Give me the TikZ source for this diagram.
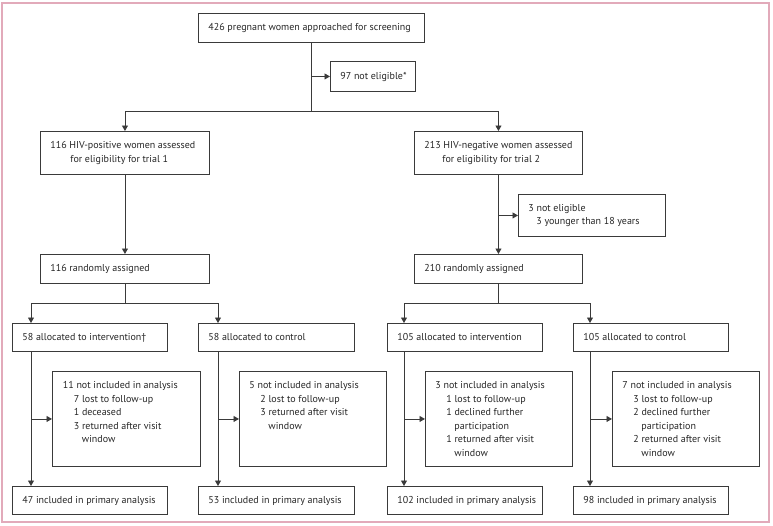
\documentclass[tikz,border=0pt]{standalone}
\usepackage{fontspec}
\setmainfont{PT Sans}
\usetikzlibrary{arrows.meta,calc}
\definecolor{linec}{HTML}{3A3A3A}
\definecolor{framec}{HTML}{E2AABA}
\definecolor{textc}{HTML}{262626}
\newcommand{\sub}[1]{\par\hangindent=19pt\hspace*{11pt}#1}
\newcommand{\bx}[2]{\makebox[#1][l]{\begin{tabular}{@{}l@{}}#2\end{tabular}}}
\newcommand{\ex}[1]{\begin{minipage}[c][75pt][t]{127pt}\raggedright\hyphenpenalty=10000 #1\end{minipage}}
\begin{document}
\begin{tikzpicture}[x=1pt,y=-1pt,
  box/.style={draw=linec, line width=0.9pt, anchor=north west, inner xsep=10pt, inner ysep=0pt,
     font=\fontsize{10}{13.5}\selectfont, text=textc},
  exbox/.style={box, inner ysep=10pt},
  arr/.style={draw=linec, line width=0.9pt, -{Triangle[length=5.5pt,width=6pt]}},
  ln/.style={draw=linec, line width=0.9pt}]
\useasboundingbox (0,0) rectangle (773,525);
\draw[framec, line width=1.2pt] (2,3) rectangle (769,522);

% top level
\node[box, minimum width=226pt, minimum height=29pt] (top) at (198,13) {\bx{206pt}{426 pregnant women approached for screening}};
\node[box, minimum width=85pt, minimum height=30pt] (ne1) at (330,61) {\bx{65pt}{97 not eligible*}};

\node[box, minimum width=169pt, minimum height=43pt] (hivpos) at (40,131) {\bx{149pt}{116 HIV-positive women assessed\\\hspace*{20pt}for eligibility for trial 1}};
\node[box, minimum width=168pt, minimum height=43pt] (hivneg) at (414,131) {\bx{148pt}{213 HIV-negative women assessed\\\hspace*{18pt}for eligibility for trial 2}};
\node[box, minimum width=147pt, minimum height=42pt] (ne2) at (518,194) {\bx{127pt}{3 not eligible\\\hspace*{8pt}3 younger than 18 years}};

\node[box, minimum width=169pt, minimum height=29pt] (rand1) at (40,254) {\bx{149pt}{116 randomly assigned}};
\node[box, minimum width=168pt, minimum height=29pt] (rand2) at (414,254) {\bx{148pt}{210 randomly assigned}};

% allocation
\node[box, minimum width=155pt, minimum height=28pt] (al1) at (12,323) {\bx{135pt}{58 allocated to intervention\textdagger}};
\node[box, minimum width=156pt, minimum height=28pt] (al2) at (198,323) {\bx{136pt}{58 allocated to control}};
\node[box, minimum width=155pt, minimum height=28pt] (al3) at (387,323) {\bx{135pt}{105 allocated to intervention}};
\node[box, minimum width=155pt, minimum height=28pt] (al4) at (573,323) {\bx{135pt}{105 allocated to control}};

% exclusions
\node[exbox, minimum width=148pt, minimum height=95pt] (ex1) at (52,371) {\ex{11 not included in analysis\sub{7 lost to follow-up}\sub{1 deceased}\sub{3 returned after visit window}}};
\node[exbox, minimum width=147pt, minimum height=95pt] (ex2) at (239,371) {\ex{5 not included in analysis\sub{2 lost to follow-up}\sub{3 returned after visit window}}};
\node[exbox, minimum width=147pt, minimum height=95pt] (ex3) at (425,371) {\ex{3 not included in analysis\sub{1 lost to follow-up}\sub{1 declined further participation}\sub{1 returned after visit window}}};
\node[exbox, minimum width=147pt, minimum height=95pt] (ex4) at (612,371) {\ex{7 not included in analysis\sub{3 lost to follow-up}\sub{2 declined further participation}\sub{2 returned after visit window}}};

% included
\node[box, minimum width=155pt, minimum height=28pt] (in1) at (12,486) {\bx{135pt}{47 included in primary analysis}};
\node[box, minimum width=156pt, minimum height=28pt] (in2) at (198,486) {\bx{136pt}{53 included in primary analysis}};
\node[box, minimum width=155pt, minimum height=28pt] (in3) at (387,486) {\bx{135pt}{102 included in primary analysis}};
\node[box, minimum width=155pt, minimum height=28pt] (in4) at (573,486) {\bx{135pt}{98 included in primary analysis}};

% connectors top
\coordinate (s1) at (top.south |- 0,111);
\draw[ln] (top.south) -- (s1);
\draw[arr] (top.south |- ne1.west) -- (ne1.west);
\draw[arr] (s1) -| (hivpos.north);
\draw[arr] (s1) -| (hivneg.north);
\draw[arr] (hivpos.south) -- (rand1.north);
\draw[arr] (hivneg.south) -- (rand2.north);
\draw[arr] (hivneg.south |- ne2.west) -- (ne2.west);

% randomisation splits
\coordinate (s2) at (rand1.south |- 0,303);
\coordinate (s3) at (rand2.south |- 0,303);
\coordinate (c1) at (31,0);
\coordinate (c2) at (218,0);
\coordinate (c3) at (404,0);
\coordinate (c4) at (590,0);
\draw[ln] (rand1.south) -- (s2);
\draw[ln] (rand2.south) -- (s3);
\draw[arr] (s2) -| (c1 |- al1.north);
\draw[arr] (s2) -| (c2 |- al2.north);
\draw[arr] (s3) -| (c3 |- al3.north);
\draw[arr] (s3) -| (c4 |- al4.north);

% arms
\foreach \i in {1,2,3,4}{
  \draw[arr] (c\i |- al\i.south) -- (c\i |- in\i.north);
  \draw[arr] (c\i |- ex\i.west) -- (ex\i.west);
}
\end{tikzpicture}
\end{document}
